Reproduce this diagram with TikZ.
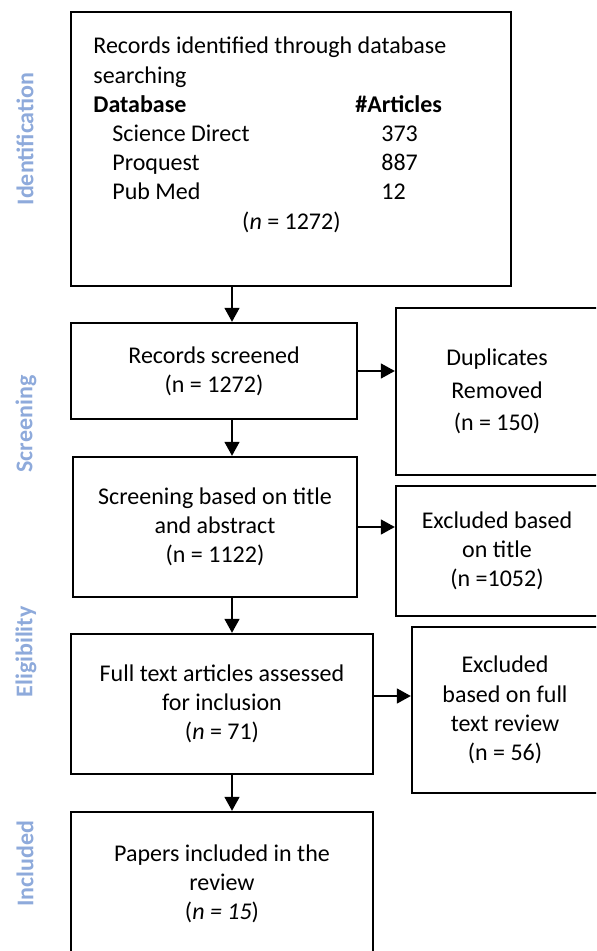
\documentclass[tikz,border=0pt]{standalone}
\usepackage{fontspec}
\setmainfont{Carlito}
\usetikzlibrary{arrows.meta}
\definecolor{phase}{HTML}{8EAADB}
\begin{document}
\begin{tikzpicture}[x=0.5pt,y=-0.5pt,
  every node/.style={font=\fontsize{12}{14.6}\selectfont},
  box/.style={draw, line width=1.2pt, inner sep=0pt, align=center},
  conn/.style={line width=0.8pt, -{Triangle[length=7pt,width=7.5pt]}},
  phaselabel/.style={text=phase, font=\fontsize{12}{14.6}\selectfont\bfseries, rotate=90, inner sep=0pt}]
\clip (0,0) rectangle (596,951);
% boxes
\node[box, minimum width=220pt, minimum height=137pt] (id) at (291,149) {};
\node[anchor=base west, inner sep=0pt] (idtext) at (93,54) {\parbox[t]{210pt}{%
Records identified through database\\
searching\\
\makebox[131pt][l]{\textbf{Database}}\textbf{\#Articles}\\
\hspace*{9.5pt}\makebox[134.5pt][l]{Science Direct}373\\
\hspace*{9.5pt}\makebox[134.5pt][l]{Proquest}887\\
\hspace*{9.5pt}\makebox[134.5pt][l]{Pub Med}12\\
\makebox[198pt][c]{(\textit{n} = 1272)}}};
\node[box, minimum width=143pt, minimum height=48pt] (scr1) at (214,371) {Records screened\\(n = 1272)};
\node[box, minimum width=142pt, minimum height=70pt] (scr2) at (215,527) {Screening based on title\\and abstract\\(n = 1122)};
\node[box, minimum width=151pt, minimum height=70pt] (full) at (222,704) {Full text articles assessed\\for inclusion\\(\textit{n} = 71)};
\node[box, minimum width=151pt, minimum height=72pt] (pap) at (222,884) {Papers included in the\\review\\(\textit{n = 15})};
\node[box, minimum width=101pt, minimum height=83.5pt, font=\fontsize{12}{16.2}\selectfont] (dup) at (497,391.5) {Duplicates\\Removed\\(n = 150)};
\node[box, minimum width=101pt, minimum height=65pt] (exT) at (497,551) {Excluded based\\on title\\(n =1052)};
\node[box, minimum width=93pt, minimum height=83pt] (exF) at (505,710) {Excluded\\based on full\\text review\\(n = 56)};
% phase labels
\node[phaselabel] (lid) at (25,139) {Identification};
\node[phaselabel] (lscr) at (26,424) {Screening};
\node[phaselabel] (lel) at (26,652) {Eligibility};
\node[phaselabel] (linc) at (25,864) {Included};
% connectors
\coordinate (ax) at (232,0);
\draw[conn] (id.south -| ax) -- (scr1.north -| ax);
\draw[conn] (scr1.south -| ax) -- (scr2.north -| ax);
\draw[conn] (scr2.south -| ax) -- (full.north -| ax);
\draw[conn] (full.south -| ax) -- (pap.north -| ax);
\draw[conn] (scr1.east) -- (scr1.east -| dup.west);
\draw[conn] (scr2.east) -- (scr2.east -| exT.west);
\draw[conn] ([yshift=4pt]full.east) -- ([yshift=4pt]full.east -| exF.west);
\end{tikzpicture}
\end{document}
